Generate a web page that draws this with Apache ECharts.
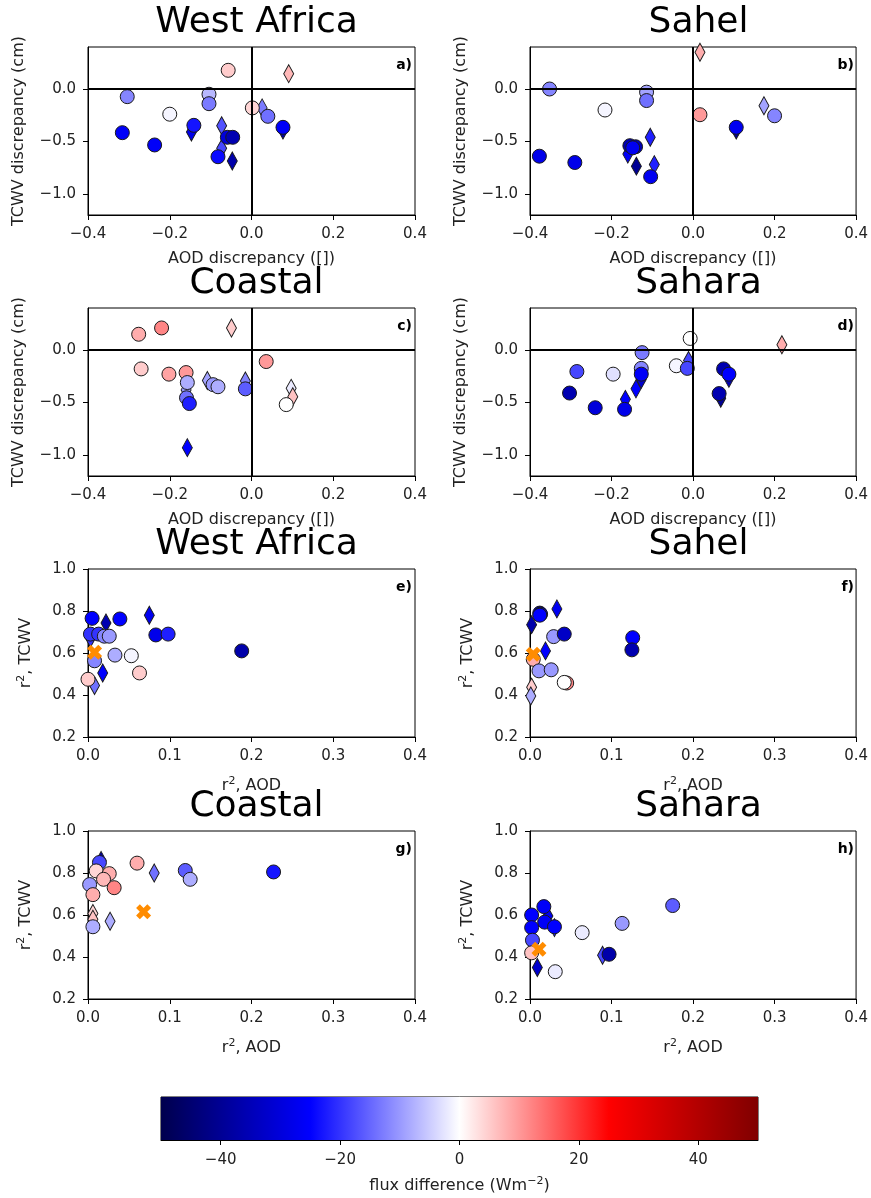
<!DOCTYPE html>
<html>
<head>
<meta charset="utf-8">
<script src="https://cdn.jsdelivr.net/npm/echarts@6/dist/echarts.min.js"></script>
<style>
  html, body { margin: 0; padding: 0; background: #fff; }
  #chart { width: 871px; height: 1198px; }
</style>
</head>
<body>
<div id="chart"></div>
<script>
// each point: [x, y, flux difference]
const aCircles = [[-0.057, 0.178, 5], [-0.304, -0.073, -12], [-0.104, -0.05, -7], [-0.104, -0.14, -13],
  [-0.2, -0.24, -1], [0.002, -0.18, 4], [0.04, -0.26, -14], [0.077, -0.365, -26], [-0.316, -0.416, -26],
  [-0.237, -0.533, -26], [-0.141, -0.346, -23], [-0.059, -0.46, -30], [-0.046, -0.46, -36], [-0.082, -0.645, -24]];
const aDiamonds = [[0.091, 0.146, 7], [0.026, -0.18, -13], [0.077, -0.39, -38], [-0.147, -0.41, -28],
  [-0.073, -0.35, -17], [-0.073, -0.565, -18], [-0.047, -0.686, -37]];

const bCircles = [[-0.352, 0.0, -12], [-0.114, -0.03, -9], [-0.114, -0.11, -14], [-0.216, -0.2, -1],
  [0.017, -0.245, 10], [0.2, -0.255, -12], [0.106, -0.365, -27], [-0.155, -0.54, -36], [-0.141, -0.55, -35],
  [-0.148, -0.56, -27], [-0.377, -0.64, -28], [-0.29, -0.70, -28], [-0.104, -0.835, -27]];
const bDiamonds = [[0.017, 0.35, 8], [0.174, -0.16, -9], [0.106, -0.39, -40], [-0.105, -0.46, -22],
  [-0.16, -0.62, -26], [-0.139, -0.735, -40], [-0.095, -0.72, -22]];

const cCircles = [[-0.276, 0.15, 8], [-0.22, 0.21, 12], [-0.27, -0.18, 5], [-0.202, -0.23, 9],
  [-0.16, -0.215, 10], [-0.157, -0.31, -8], [-0.159, -0.455, -14], [-0.152, -0.51, -22], [-0.094, -0.33, -10],
  [-0.082, -0.35, -8], [-0.015, -0.37, -16], [0.036, -0.11, 10], [0.085, -0.52, 0]];
const cDiamonds = [[-0.049, 0.21, 5], [-0.16, -0.38, -10], [-0.108, -0.29, -9], [-0.015, -0.295, -12],
  [0.097, -0.365, -2], [0.101, -0.445, 6], [-0.157, -0.93, -25]];

const dCircles = [[-0.007, 0.11, 0], [-0.125, -0.025, -13], [-0.041, -0.15, -1], [-0.014, -0.175, -18],
  [-0.285, -0.205, -18], [-0.196, -0.23, -3], [-0.127, -0.175, -12], [-0.127, -0.23, -26], [-0.168, -0.565, -28],
  [-0.303, -0.41, -36], [-0.24, -0.55, -30], [0.075, -0.18, -36], [0.088, -0.23, -25], [0.064, -0.415, -36]];
const dDiamonds = [[0.218, 0.05, 8], [-0.011, -0.1, -18], [-0.127, -0.28, -32], [-0.14, -0.37, -25],
  [-0.166, -0.47, -25], [0.088, -0.27, -36], [0.068, -0.46, -40]];

const eCircles = [[0.005, 0.765, -25], [0.039, 0.762, -25], [0.083, 0.686, -28], [0.098, 0.69, -22],
  [0.188, 0.61, -37], [0.003, 0.69, -20], [0.013, 0.69, -20], [0.02, 0.68, -12], [0.026, 0.68, -10],
  [0.033, 0.59, -8], [0.053, 0.587, -1], [0.008, 0.563, -12], [0.063, 0.505, 5], [0.0, 0.475, 5]];
const eDiamonds = [[0.022, 0.743, -36], [0.075, 0.78, -27], [0.003, 0.67, -20], [0.018, 0.505, -25],
  [0.008, 0.445, -14]];
const eCross = [[0.008, 0.603]];

const fCircles = [[0.012, 0.79, -36], [0.013, 0.785, -33], [0.012, 0.78, -25], [0.029, 0.678, -10],
  [0.042, 0.69, -33], [0.126, 0.673, -25], [0.125, 0.615, -36], [0.004, 0.57, 8], [0.011, 0.515, -10],
  [0.026, 0.52, -10], [0.045, 0.457, 12], [0.042, 0.46, 0]];
const fDiamonds = [[0.033, 0.81, -27], [0.002, 0.735, -37], [0.019, 0.61, -25], [0.002, 0.437, 5],
  [0.001, 0.395, -8]];
const fCross = [[0.004, 0.594]];

const gCircles = [[0.014, 0.85, -18], [0.06, 0.847, 8], [0.119, 0.812, -16], [0.125, 0.77, -8],
  [0.227, 0.805, -23], [0.01, 0.81, 4], [0.026, 0.797, 8], [0.019, 0.77, 7], [0.032, 0.73, 12],
  [0.002, 0.745, -10], [0.006, 0.697, 8], [0.006, 0.544, -8]];
const gDiamonds = [[0.016, 0.86, -40], [0.081, 0.8, -14], [0.006, 0.607, 4], [0.006, 0.58, 6],
  [0.027, 0.57, -8]];
const gCross = [[0.068, 0.615]];

const hCircles = [[0.017, 0.64, -26], [0.018, 0.566, -26], [0.03, 0.544, -25], [0.002, 0.6, -25],
  [0.002, 0.54, -25], [0.175, 0.645, -16], [0.113, 0.56, -10], [0.064, 0.516, -2], [0.097, 0.413, -37],
  [0.003, 0.48, -18], [0.002, 0.42, 6], [0.031, 0.33, -2]];
const hDiamonds = [[0.03, 0.54, -22], [0.022, 0.595, -27], [0.089, 0.408, -18], [0.009, 0.35, -32]];
const hCross = [[0.011, 0.437]];

const regions = ['West Africa', 'Sahel', 'Coastal', 'Sahara', 'West Africa', 'Sahel', 'Coastal', 'Sahara'];
const panelLabels = ['a)', 'b)', 'c)', 'd)', 'e)', 'f)', 'g)', 'h)'];

const discXTicks = [-0.4, -0.2, 0, 0.2, 0.4];
const discYTicks = [-1.0, -0.5, 0.0];
const r2XTicks = [0, 0.1, 0.2, 0.3, 0.4];
const r2YTicks = [0.2, 0.4, 0.6, 0.8, 1.0];
const cbarTicks = [-40, -20, 0, 20, 40];
const cmapColors = ['#00004d', '#0000ff', '#ffffff', '#ff0000', '#800000']; // seismic

const panels = [
  { circles: aCircles, diamonds: aDiamonds, cross: null, kind: 'disc' },
  { circles: bCircles, diamonds: bDiamonds, cross: null, kind: 'disc' },
  { circles: cCircles, diamonds: cDiamonds, cross: null, kind: 'disc' },
  { circles: dCircles, diamonds: dDiamonds, cross: null, kind: 'disc' },
  { circles: eCircles, diamonds: eDiamonds, cross: eCross, kind: 'r2' },
  { circles: fCircles, diamonds: fDiamonds, cross: fCross, kind: 'r2' },
  { circles: gCircles, diamonds: gDiamonds, cross: gCross, kind: 'r2' },
  { circles: hCircles, diamonds: hDiamonds, cross: hCross, kind: 'r2' }
];

const FONT = 'DejaVu Sans';
const TICK_SIZE = 15, NAME_SIZE = 16;
const lefts = [88, 530];
const tops = [47, 308, 569, 831];
const W = 327, H = 168;

const fmt = v => v.toFixed(1).replace('-', '\u2212');
const crossPath = 'path://M0,2.5L2.5,0L5,2.5L7.5,0L10,2.5L7.5,5L10,7.5L7.5,10L5,7.5L2.5,10L0,7.5L2.5,5Z';
const supRich = { sup: { fontFamily: FONT, fontSize: 11, color: '#222', verticalAlign: 'top', padding: [0, 0, 9, 0] } };

const grids = [], xAxes = [], yAxes = [], series = [], titles = [], colored = [];

panels.forEach((p, i) => {
  const left = lefts[i % 2];
  const top = tops[Math.floor(i / 2)];
  const disc = p.kind === 'disc';

  grids.push({ left, top, width: W, height: H, show: true, borderColor: '#000', borderWidth: 1 });

  const axisCommon = {
    gridIndex: i,
    splitLine: { show: false },
    axisLine: { show: true, onZero: false, lineStyle: { color: '#000', width: 1 } },
    nameLocation: 'middle',
    nameTextStyle: { fontFamily: FONT, fontSize: NAME_SIZE, color: '#222', rich: supRich }
  };

  const xt = disc ? discXTicks : r2XTicks;
  const yt = disc ? discYTicks : r2YTicks;

  xAxes.push(Object.assign({}, axisCommon, {
    type: 'value',
    min: disc ? -0.4 : 0, max: 0.4,
    name: disc ? 'AOD discrepancy ([])' : 'r{sup|2}, AOD',
    nameGap: disc ? 36 : 39,
    axisTick: { show: true, length: 5, customValues: xt, lineStyle: { color: '#000' } },
    axisLabel: { customValues: xt, formatter: fmt, margin: 12, fontFamily: FONT, fontSize: TICK_SIZE, color: '#222' }
  }));
  yAxes.push(Object.assign({}, axisCommon, {
    type: 'value',
    min: disc ? -1.2 : 0.2, max: disc ? 0.4 : 1.0,
    name: disc ? 'TCWV discrepancy (cm)' : 'r{sup|2}, TCWV',
    nameGap: disc ? 61 : 52,
    axisTick: { show: true, length: 5, customValues: yt, lineStyle: { color: '#000' } },
    axisLabel: { customValues: yt, formatter: fmt, margin: 12, fontFamily: FONT, fontSize: TICK_SIZE, color: '#222' }
  }));

  titles.push({
    text: regions[i], left: left + W / 2, top: top - 47, textAlign: 'center',
    textStyle: { fontFamily: FONT, fontSize: 36, fontWeight: 'normal', color: '#000' }
  });
  titles.push({
    text: panelLabels[i], left: left + W - 8, top: top + 6, textAlign: 'right',
    textStyle: { fontFamily: FONT, fontSize: 14, fontWeight: 'bold', color: '#000' }
  });

  if (disc) {
    series.push({
      type: 'line', xAxisIndex: i, yAxisIndex: i, data: [], z: 1, silent: true,
      markLine: {
        silent: true, symbol: ['none', 'none'], label: { show: false },
        lineStyle: { color: '#000', width: 2, type: 'solid' },
        emphasis: { disabled: true },
        data: [{ xAxis: 0 }, { yAxis: 0 }]
      }
    });
  }

  colored.push(series.length);
  series.push({
    type: 'scatter', xAxisIndex: i, yAxisIndex: i, z: 3,
    symbol: 'diamond', symbolSize: [10, 18],
    itemStyle: { borderColor: '#1a1a1a', borderWidth: 1, opacity: 1 },
    data: p.diamonds
  });
  colored.push(series.length);
  series.push({
    type: 'scatter', xAxisIndex: i, yAxisIndex: i, z: 3,
    symbol: 'circle', symbolSize: 14,
    itemStyle: { borderColor: '#1a1a1a', borderWidth: 1, opacity: 1 },
    data: p.circles
  });
  if (p.cross) {
    series.push({
      type: 'scatter', xAxisIndex: i, yAxisIndex: i, z: 4,
      symbol: crossPath, symbolSize: 15,
      itemStyle: { color: '#ff8c00', opacity: 1 },
      data: p.cross
    });
  }
});

// colour bar
const cb = panels.length;
grids.push({ left: 161, top: 1097, width: 597, height: 43, show: true, borderColor: '#000', borderWidth: 1 });
xAxes.push({
  type: 'value', gridIndex: cb, min: -50, max: 50,
  splitLine: { show: false },
  axisLine: { show: true, onZero: false, lineStyle: { color: '#000' } },
  axisTick: { show: true, length: 5, customValues: cbarTicks, lineStyle: { color: '#000' } },
  axisLabel: { customValues: cbarTicks, formatter: v => String(v).replace('-', '\u2212'), margin: 13,
    fontFamily: FONT, fontSize: TICK_SIZE, color: '#222' },
  name: 'flux difference (Wm{sup|\u22122})', nameLocation: 'middle', nameGap: 36,
  nameTextStyle: { fontFamily: FONT, fontSize: NAME_SIZE, color: '#222', rich: supRich }
});
yAxes.push({ type: 'value', gridIndex: cb, min: 0, max: 1, show: false });
series.push({
  type: 'custom', xAxisIndex: cb, yAxisIndex: cb, silent: true,
  data: [[-50, 50]],
  renderItem: (params, api) => {
    const p0 = api.coord([api.value(0), 1]);
    const p1 = api.coord([api.value(1), 0]);
    return {
      type: 'rect',
      shape: { x: p0[0], y: p0[1], width: p1[0] - p0[0], height: p1[1] - p0[1] },
      style: {
        fill: new echarts.graphic.LinearGradient(0, 0, 1, 0,
          cmapColors.map((c, k) => ({ offset: k / (cmapColors.length - 1), color: c })))
      }
    };
  }
});

const chart = echarts.init(document.getElementById('chart'));
chart.setOption({
  animation: false,
  backgroundColor: '#fff',
  title: titles,
  grid: grids,
  xAxis: xAxes,
  yAxis: yAxes,
  visualMap: {
    type: 'continuous', show: false, min: -50, max: 50, dimension: 2,
    seriesIndex: colored,
    inRange: { color: cmapColors }
  },
  series
});
</script>
</body>
</html>
